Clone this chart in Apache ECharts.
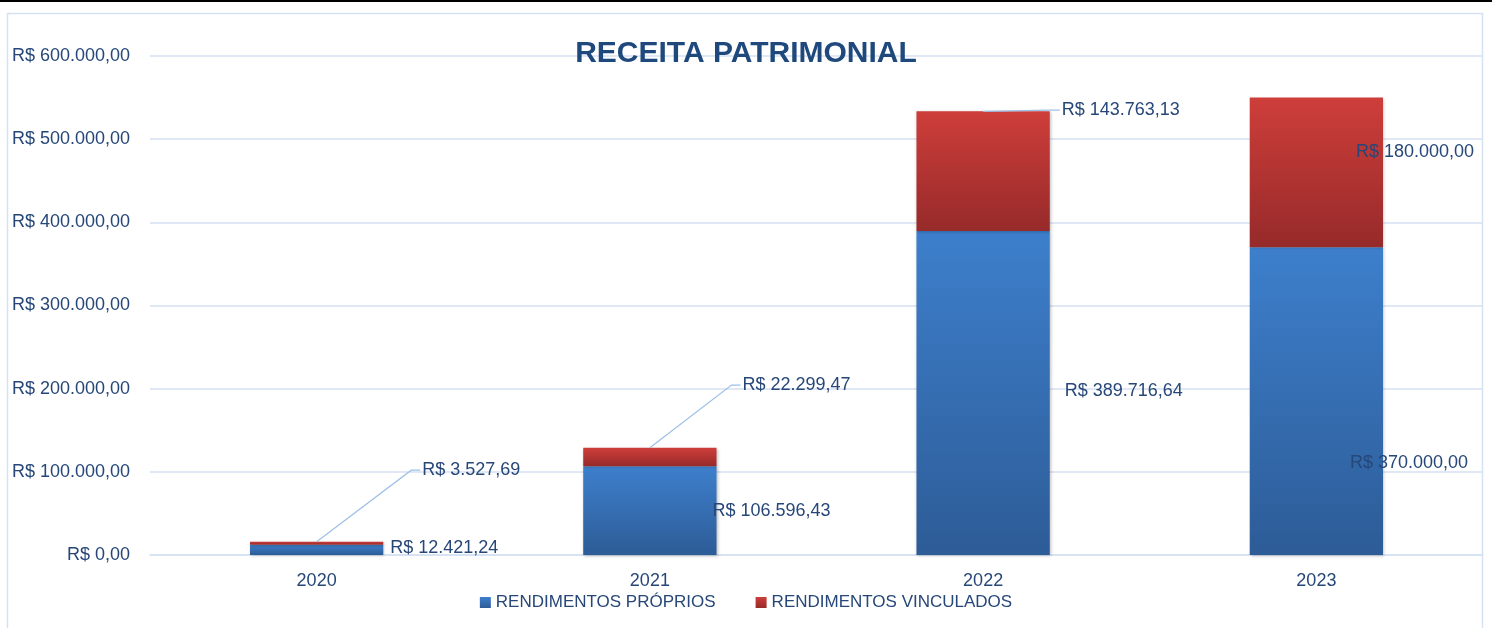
<!DOCTYPE html>
<html>
<head>
<meta charset="utf-8">
<script src="https://cdn.jsdelivr.net/npm/echarts@6/dist/echarts.min.js"></script>
<style>
  html, body { margin: 0; padding: 0; background: #fff; }
  #chart { width: 1492px; height: 628px; }
</style>
</head>
<body>
<div id="chart"></div>
<script>
// dados
const anos = ["2020", "2021", "2022", "2023"];
const rendimentosProprios = [12421.24, 106596.43, 389716.64, 370000.0];
const rendimentosVinculados = [3527.69, 22299.47, 143763.13, 180000.0];
const yTicks = [0, 100000, 200000, 300000, 400000, 500000, 600000];

// deslocamento dos rótulos (como no Excel)
const shiftProprios = [[2, -2], [-9, 0], [10, -2], [-38, 62]];
const shiftVinculados = [[34, -73], [21, -72], [7, -61], [-32, -20]];
const comLinhaGuia = [true, true, true, false];

const textColor = "#264778";
const fontFamily = "Liberation Sans, Arial, sans-serif";
const labelDistance = 5;
const barRatio = 0.4;

function formatBRL(v) {
  const fixed = Math.abs(v).toFixed(2);
  let [int, dec] = fixed.split(".");
  int = int.replace(/\B(?=(\d{3})+(?!\d))/g, ".");
  return "R$ " + (v < 0 ? "-" : "") + int + "," + dec;
}

const chart = echarts.init(document.getElementById("chart"));

function shiftLayout(shifts) {
  return (params) => {
    const s = shifts[params.dataIndex] || [0, 0];
    return { dx: s[0], dy: s[1] };
  };
}

// linhas guia: do topo da barra até o rótulo deslocado
function renderGuide(params, api) {
  const i = api.value(0);
  if (!comLinhaGuia[i]) return null;
  const base = api.value(1);
  const seg = api.value(2);
  const top = api.coord([i, base + seg]);
  const mid = api.coord([i, base + seg / 2]);
  const halfBar = (api.size([1, 0])[0] * barRatio) / 2;
  const s = shiftVinculados[i];
  const lx = top[0] + halfBar + labelDistance + s[0];
  const ly = mid[1] + s[1];
  return {
    type: "polyline",
    shape: {
      points: [
        [top[0], top[1]],
        [lx - 11, ly],
        [lx - 2, ly],
      ],
    },
    style: { stroke: "#9dc0e8", lineWidth: 1.2, fill: null },
    silent: true,
  };
}

const option = {
  animation: false,
  backgroundColor: "#ffffff",
  textStyle: { fontFamily: fontFamily },
  title: {
    text: "RECEITA PATRIMONIAL",
    left: "center",
    top: 34,
    textStyle: {
      fontFamily: fontFamily,
      fontSize: 30,
      fontWeight: "bold",
      color: "#1f497d",
    },
  },
  graphic: [
    {
      type: "rect",
      shape: { x: 0, y: 0, width: 1492, height: 2 },
      style: { fill: "#000" },
      silent: true,
    },
    {
      type: "rect",
      shape: { x: 7.5, y: 13.5, width: 1475, height: 700 },
      style: { fill: "none", stroke: "#d5e1f1", lineWidth: 1.5 },
      silent: true,
    },
  ],
  legend: {
    bottom: 12,
    left: "center",
    itemWidth: 11,
    itemHeight: 11,
    itemGap: 40,
    icon: "rect",
    textStyle: { color: textColor, fontSize: 17, fontFamily: fontFamily },
    data: ["RENDIMENTOS PRÓPRIOS", "RENDIMENTOS VINCULADOS"],
  },
  grid: {
    left: 150,
    right: 9,
    top: 56,
    bottom: 73,
  },
  xAxis: {
    type: "category",
    data: anos,
    axisLine: { lineStyle: { color: "#d5e1f1", width: 1.5 } },
    axisTick: { show: false },
    axisLabel: { color: textColor, fontSize: 18, margin: 17, fontFamily: fontFamily },
  },
  yAxis: {
    type: "value",
    min: yTicks[0],
    max: yTicks[yTicks.length - 1],
    interval: yTicks[1] - yTicks[0],
    axisLine: { show: false },
    axisTick: { show: false },
    splitLine: { lineStyle: { color: "#d5e1f1", width: 1.5 } },
    axisLabel: {
      color: textColor,
      fontSize: 18,
      margin: 20,
      fontFamily: fontFamily,
      formatter: (v) => formatBRL(v),
    },
  },
  series: [
    {
      name: "RENDIMENTOS PRÓPRIOS",
      type: "bar",
      stack: "total",
      barWidth: barRatio * 100 + "%",
      data: rendimentosProprios,
      itemStyle: {
        color: new echarts.graphic.LinearGradient(0, 0, 0, 1, [
          { offset: 0, color: "#3d7fcc" },
          { offset: 1, color: "#2d5c97" },
        ]),
        shadowBlur: 3,
        shadowColor: "rgba(0,0,0,0.25)",
        shadowOffsetX: 1,
        shadowOffsetY: 1,
      },
      label: {
        show: true,
        position: "right",
        distance: labelDistance,
        color: textColor,
        fontSize: 18,
        fontFamily: fontFamily,
        formatter: (p) => formatBRL(p.value),
      },
      labelLayout: shiftLayout(shiftProprios),
    },
    {
      name: "RENDIMENTOS VINCULADOS",
      type: "bar",
      stack: "total",
      barWidth: barRatio * 100 + "%",
      data: rendimentosVinculados,
      itemStyle: {
        color: new echarts.graphic.LinearGradient(0, 0, 0, 1, [
          { offset: 0, color: "#ce3e3a" },
          { offset: 1, color: "#962a2a" },
        ]),
        shadowBlur: 3,
        shadowColor: "rgba(0,0,0,0.25)",
        shadowOffsetX: 1,
        shadowOffsetY: 1,
      },
      label: {
        show: true,
        position: "right",
        distance: labelDistance,
        color: textColor,
        fontSize: 18,
        fontFamily: fontFamily,
        formatter: (p) => formatBRL(p.value),
      },
      labelLine: { show: false },
      labelLayout: shiftLayout(shiftVinculados),
    },
    {
      name: "guias",
      type: "custom",
      renderItem: renderGuide,
      z: 3,
      silent: true,
      data: anos.map((_, i) => [i, rendimentosProprios[i], rendimentosVinculados[i]]),
      encode: { x: 0, y: 1 },
    },
  ],
};

chart.setOption(option);
</script>
</body>
</html>
